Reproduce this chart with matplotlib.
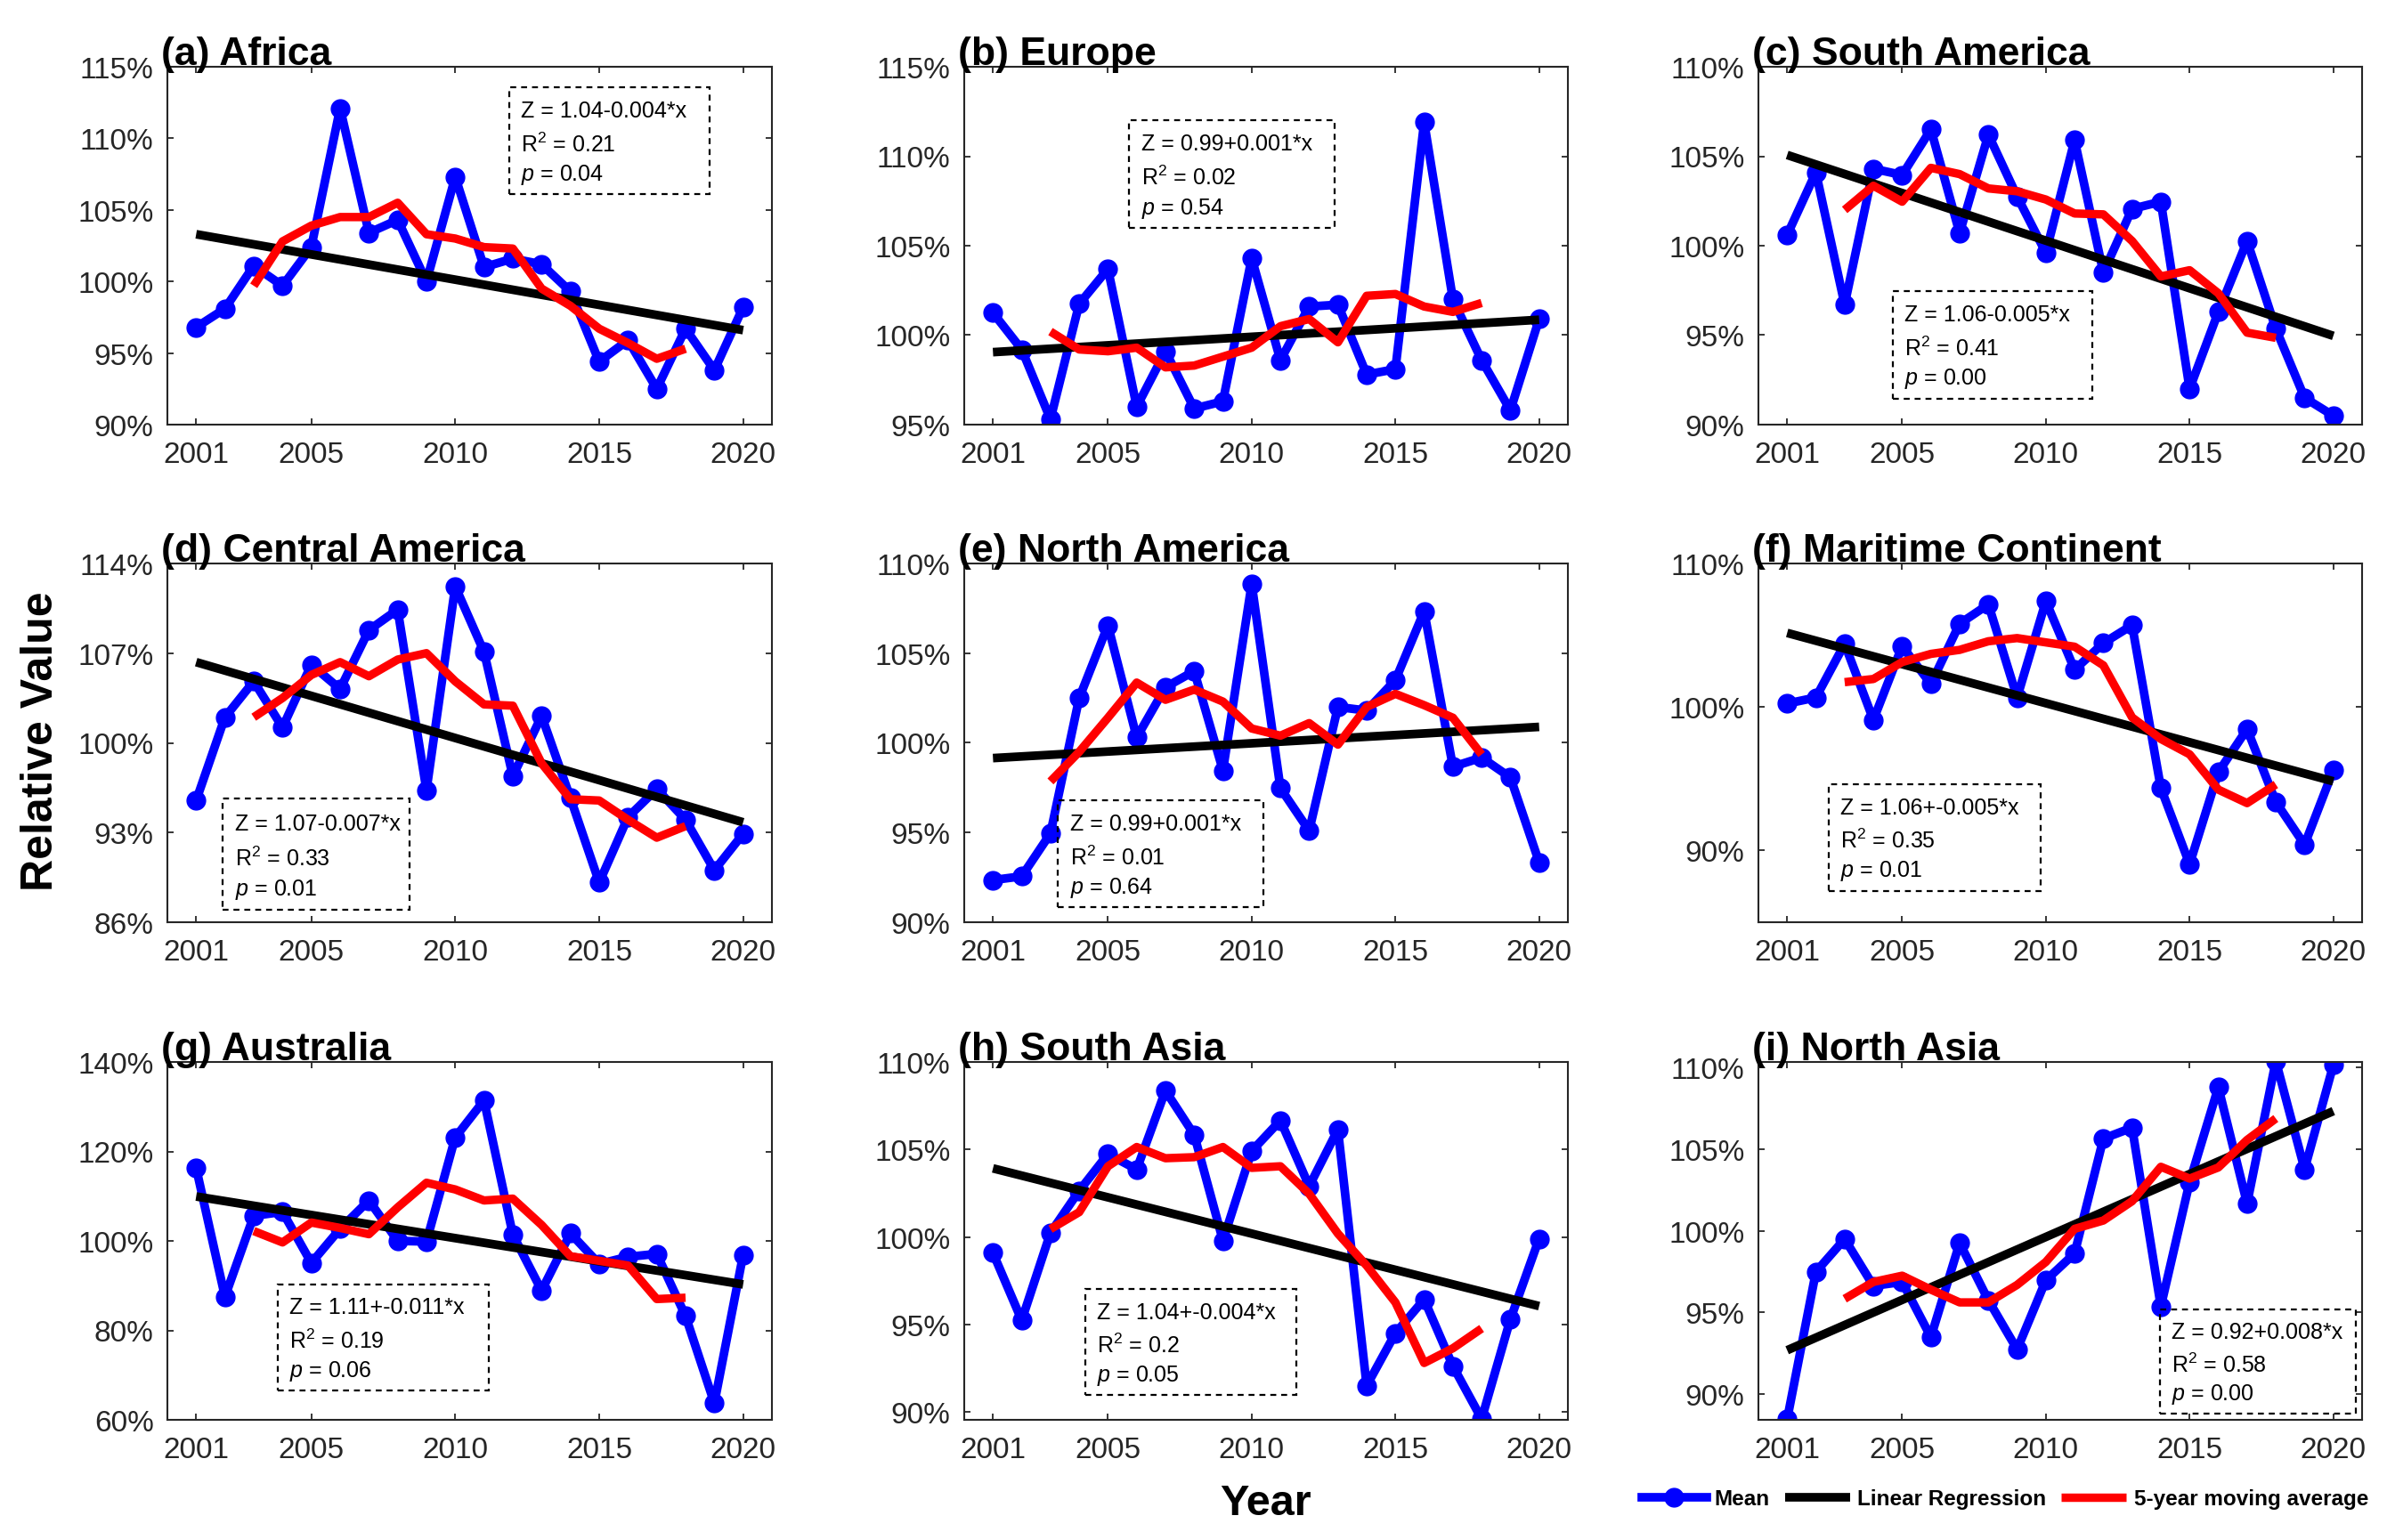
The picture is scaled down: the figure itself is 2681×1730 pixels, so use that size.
import numpy as np
import matplotlib.pyplot as plt
from matplotlib.patches import Rectangle

plt.rcParams['font.family'] = ['Liberation Sans', 'DejaVu Sans']
plt.rcParams['mathtext.fontset'] = 'custom'
plt.rcParams['mathtext.rm'] = 'Liberation Sans'
plt.rcParams['mathtext.it'] = 'Liberation Sans:italic'

years = list(range(2001, 2021))
ma_years = years[2:18]          # centred 5-year window, 2003-2018
xticks = [2001, 2005, 2010, 2015, 2020]

# ---- values (percent) ----
africa_mean = [96.8, 98.1, 101.1, 99.7, 102.4, 112.1, 103.4, 104.3, 100.0, 107.3,
               101.0, 101.6, 101.2, 99.3, 94.4, 95.9, 92.5, 96.7, 93.8, 98.2]
africa_ma = [99.7, 102.8, 103.9, 104.5, 104.5, 105.5, 103.3, 103.0, 102.4, 102.3,
             99.5, 98.3, 96.7, 95.7, 94.6, 95.3]
africa_fit = [103.3, 96.6]

europe_mean = [101.25, 99.2, 95.3, 101.75, 103.7, 96.0, 99.1, 95.9, 96.3, 104.3,
               98.6, 101.6, 101.7, 97.8, 98.1, 111.9, 102.0, 98.6, 95.8, 100.9]
europe_ma = [100.2, 99.2, 99.1, 99.3, 98.2, 98.3, 98.8, 99.3, 100.5, 100.9,
             99.6, 102.2, 102.3, 101.6, 101.3, 101.8]
europe_fit = [99.05, 100.86]

samerica_mean = [100.6, 104.1, 96.7, 104.3, 103.95, 106.5, 100.7, 106.2, 102.75, 99.6,
                 105.9, 98.5, 102.06, 102.46, 92.0, 96.3, 100.26, 95.36, 91.5, 90.5]
samerica_ma = [102.0, 103.35, 102.46, 104.35, 104.0, 103.2, 103.04, 102.58, 101.8, 101.75,
               100.26, 98.28, 98.63, 97.34, 95.14, 94.85]
samerica_fit = [105.07, 94.96]

camerica_mean = [95.5, 102.0, 104.8, 101.2, 106.1, 104.2, 108.8, 110.4, 96.3, 112.2,
                 107.1, 97.4, 102.1, 95.7, 89.1, 94.2, 96.4, 94.0, 90.06, 92.9]
camerica_ma = [102.0, 103.5, 105.3, 106.3, 105.2, 106.5, 107.0, 104.8, 103.0, 102.9,
               98.4, 95.6, 95.5, 94.0, 92.6, 93.5]
camerica_fit = [106.3, 93.8]

namerica_mean = [92.35, 92.56, 94.95, 102.5, 106.55, 100.3, 103.1, 104.0, 98.46, 108.86,
                 97.47, 95.1, 102.0, 101.8, 103.5, 107.34, 98.67, 99.18, 98.07, 93.34]
namerica_ma = [97.85, 99.5, 101.4, 103.36, 102.4, 102.97, 102.3, 100.8, 100.4, 101.1,
               99.9, 102.0, 102.73, 102.1, 101.4, 99.35]
namerica_fit = [99.15, 100.89]

maritime_mean = [100.24, 100.66, 104.4, 99.1, 104.24, 101.6, 105.8, 107.15, 100.66, 107.37,
                 102.6, 104.45, 105.7, 94.35, 89.04, 95.46, 98.46, 93.38, 90.4, 95.6]
maritime_ma = [101.73, 101.95, 103.13, 103.7, 103.98, 104.58, 104.8, 104.5, 104.2, 102.9,
               99.27, 97.77, 96.7, 94.24, 93.3, 94.6]
maritime_fit = [105.16, 94.82]

australia_mean = [116.3, 87.5, 105.6, 106.5, 95.07, 102.7, 109.04, 100.0, 99.86, 123.15,
                  131.4, 101.4, 88.9, 101.7, 94.86, 96.44, 97.1, 83.2, 63.7, 96.9]
australia_ma = [102.2, 99.66, 104.1, 102.9, 101.5, 107.5, 113.0, 111.5, 109.04, 109.45,
                103.56, 96.58, 95.55, 94.5, 87.0, 87.3]
australia_fit = [109.93, 90.27]

sasia_mean = [99.09, 95.24, 100.24, 102.64, 104.74, 103.86, 108.36, 105.84, 99.79, 104.91,
              106.66, 102.9, 106.14, 91.5, 94.5, 96.43, 92.62, 89.6, 95.3, 99.9]
sasia_ma = [100.45, 101.42, 104.04, 105.14, 104.5, 104.56, 105.14, 103.95, 104.04, 102.47,
            100.19, 98.36, 96.26, 92.8, 93.64, 94.77]
sasia_fit = [103.92, 96.05]

nasia_mean = [88.48, 97.49, 99.49, 96.63, 96.87, 93.5, 99.25, 95.75, 92.75, 96.97,
              98.61, 105.62, 106.29, 95.37, 102.96, 108.76, 101.65, 110.36, 103.75, 110.11]
nasia_ma = [95.84, 96.87, 97.25, 96.4, 95.62, 95.62, 96.69, 98.09, 100.11, 100.62,
            101.8, 103.9, 103.18, 103.86, 105.54, 106.85]
nasia_fit = [92.7, 107.3]

titles = ['(a) Africa', '(b) Europe', '(c) South America',
          '(d) Central America', '(e) North America', '(f) Maritime Continent',
          '(g) Australia', '(h) South Asia', '(i) North Asia']
equations = ['Z = 1.04-0.004*x', 'Z = 0.99+0.001*x', 'Z = 1.06-0.005*x',
             'Z = 1.07-0.007*x', 'Z = 0.99+0.001*x', 'Z = 1.06+-0.005*x',
             'Z = 1.11+-0.011*x', 'Z = 1.04+-0.004*x', 'Z = 0.92+0.008*x']
r2_values = ['0.21', '0.02', '0.41', '0.33', '0.01', '0.35', '0.19', '0.2', '0.58']
p_values = ['0.04', '0.54', '0.00', '0.01', '0.64', '0.01', '0.06', '0.05', '0.00']

ylims = [(90, 115), (95, 115), (90, 110), (86, 114), (90, 110), (85, 110),
         (60, 140), (89.55, 110), (88.45, 110.3)]
yticks = [[90, 95, 100, 105, 110, 115], [95, 100, 105, 110, 115], [90, 95, 100, 105, 110],
          [86, 93, 100, 107, 114], [90, 95, 100, 105, 110], [90, 100, 110],
          [60, 80, 100, 120, 140], [90, 95, 100, 105, 110], [90, 95, 100, 105, 110]]

means = [africa_mean, europe_mean, samerica_mean, camerica_mean, namerica_mean,
         maritime_mean, australia_mean, sasia_mean, nasia_mean]
mas = [africa_ma, europe_ma, samerica_ma, camerica_ma, namerica_ma,
       maritime_ma, australia_ma, sasia_ma, nasia_ma]
fits = [africa_fit, europe_fit, samerica_fit, camerica_fit, namerica_fit,
        maritime_fit, australia_fit, sasia_fit, nasia_fit]

# stats box corners in axes fraction (x0, y0, x1, y1)
boxes = [(0.565, 0.644, 0.897, 0.942), (0.273, 0.55, 0.613, 0.85), (0.222, 0.073, 0.553, 0.373),
         (0.092, 0.034, 0.401, 0.344), (0.155, 0.042, 0.495, 0.34), (0.116, 0.088, 0.467, 0.384),
         (0.182, 0.081, 0.532, 0.379), (0.2, 0.069, 0.55, 0.366), (0.665, 0.018, 0.989, 0.309)]

W, H = 2681, 1731
fig = plt.figure(figsize=(W / 100, H / 100), dpi=100)

col_l = [188, 1083, 1975]
col_r = [867, 1761, 2653]
row_t = [76, 634, 1194]
row_b = [478, 1037, 1596]

gray = '#262626'
for k in range(9):
    r, c = divmod(k, 3)
    ax = fig.add_axes([col_l[c] / W, 1 - row_b[r] / H,
                       (col_r[c] - col_l[c]) / W, (row_b[r] - row_t[r]) / H])
    l1, = ax.plot(years, means[k], '-o', color='#0000ff', lw=7, ms=15, label='Mean')
    l2, = ax.plot([years[0], years[-1]], fits[k], '-', color='black', lw=7,
                  solid_capstyle='butt', label='Linear Regression')
    l3, = ax.plot(ma_years, mas[k], '-', color='#ff0000', lw=6.8,
                  solid_capstyle='butt', label='5-year moving average')

    ax.set_xlim(2000, 2021)
    ax.set_ylim(*ylims[k])
    ax.set_xticks(xticks)
    ax.set_yticks(yticks[k])
    ax.set_yticklabels([f'{v:g}%' for v in yticks[k]])
    ax.tick_params(direction='in', length=5, width=1.3, colors=gray, labelsize=24,
                   top=True, right=True)
    ax.tick_params(axis='x', pad=13)
    ax.tick_params(axis='y', pad=11)
    for s in ax.spines.values():
        s.set_color(gray)
        s.set_linewidth(1.5)
    ax.set_title(titles[k], loc='left', fontweight='bold', fontsize=32, pad=2, x=-0.01)

    x0, y0, x1, y1 = boxes[k]
    ax.add_patch(Rectangle((x0, y0), x1 - x0, y1 - y0, transform=ax.transAxes,
                           fill=False, ls=(0, (3, 2.5)), lw=1.6, color='black', zorder=5))
    bh = y1 - y0
    tx = x0 + 0.02
    ax.text(tx, y1 - 0.274 * bh, equations[k], transform=ax.transAxes,
            fontsize=18, va='baseline', ha='left', zorder=6)
    ax.text(tx, y1 - 0.597 * bh, r'R$^{2}$ = ' + r2_values[k], transform=ax.transAxes,
            fontsize=18, va='baseline', ha='left', zorder=6)
    ax.text(tx, y1 - 0.865 * bh, r'$\it{p}$ = ' + p_values[k], transform=ax.transAxes,
            fontsize=18, va='baseline', ha='left', zorder=6)

fig.text(46 / W, 1 - 833 / H, 'Relative Value', rotation=90, fontsize=36,
         fontweight='bold', ha='center', va='center')
fig.text(1421 / W, 1 - 1690 / H, 'Year', fontsize=35, fontweight='bold',
         ha='center', va='center')

fig.legend([l1, l2, l3], ['Mean', 'Linear Regression', '5-year moving average'],
           loc='center', bbox_to_anchor=(2252 / W, 1 - 1685 / H), ncol=3, frameon=False,
           prop={'weight': 'bold', 'size': 17.5}, handlelength=3.0, handletextpad=0.35,
           columnspacing=0.7)

fig.savefig('out.png', dpi=100)
